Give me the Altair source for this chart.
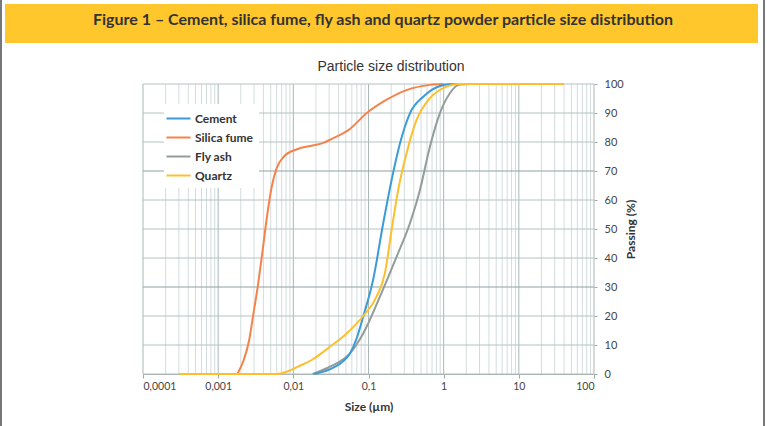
import altair as alt
import pandas as pd

# ---- data ----
series_names = ["Cement", "Silica fume", "Fly ash", "Quartz"]
series_colors = ["#3b9bd9", "#f5824b", "#929c99", "#fdbf2d"]

silica_x = [0.0018, 0.0022, 0.0026, 0.0029, 0.0034, 0.0039, 0.0045, 0.0052, 0.006, 0.0075,
            0.0112, 0.018, 0.025, 0.032, 0.0566, 0.094, 0.172, 0.321, 0.656, 1.0]
silica_y = [0, 5, 12, 19.7, 31, 42.5, 55, 65, 71, 75, 77.5, 78.8, 79.7, 81, 84.5, 89.9, 94.5,
            97.9, 99.7, 100]

cement_x = [0.019, 0.03, 0.045, 0.0566, 0.07, 0.085, 0.115, 0.157, 0.203, 0.262, 0.356, 0.535,
            0.89, 1.3, 2.0]
cement_y = [0, 1.5, 4.2, 7.1, 12.5, 19.8, 32.4, 52, 66.9, 79.5, 89.9, 95.6, 99.3, 100, 100]

flyash_x = [0.018, 0.0307, 0.0566, 0.085, 0.142, 0.236, 0.356, 0.483, 0.656, 0.89, 1.21, 1.57,
            2.2, 5.0]
flyash_y = [0, 2.5, 7.1, 14, 26.7, 40.4, 52, 63.4, 78.4, 89.9, 96.8, 99.7, 100, 100]

quartz_x = [0.0003, 0.006, 0.008, 0.0112, 0.018, 0.0307, 0.0512, 0.085, 0.128, 0.165, 0.203,
            0.248, 0.321, 0.436, 0.656, 1.09, 1.5, 40]
quartz_y = [0, 0, 0.7, 2.4, 5, 9.4, 14, 20, 26.7, 34.7, 49.7, 63.4, 76.1, 87.6, 95.1, 99.1, 100,
            100]

x_ticks = [0.0001, 0.001, 0.01, 0.1, 1, 10, 100]
y_ticks = [0, 10, 20, 30, 40, 50, 60, 70, 80, 90, 100]
minor_x = [k * d for d in [0.0001, 0.001, 0.01, 0.1, 1, 10] for k in range(2, 10)]
strong_y = [30, 70]

banner_text = "Figure 1 – Cement, silica fume, fly ash and quartz powder particle size distribution"
chart_title = "Particle size distribution"

# ---- build tables ----
rows = []
for name, xs, ys in [("Silica fume", silica_x, silica_y), ("Fly ash", flyash_x, flyash_y),
                     ("Cement", cement_x, cement_y), ("Quartz", quartz_x, quartz_y)]:
    for i, (a, b) in enumerate(zip(xs, ys)):
        rows.append({"series": name, "size": a, "passing": b, "i": i})
df = pd.DataFrame(rows)

W, H = 451, 290
xscale = alt.Scale(type="log", domain=[0.0001, 100])
yscale = alt.Scale(domain=[0, 100])

x_axis = alt.Axis(
    values=x_ticks, format="~g", labelExpr="replace(datum.label, '.', ',')",
    grid=False, domain=True, domainColor="#a0a8a8", ticks=True, tickSize=4,
    tickColor="#a0a8a8", labelFont="Lato", labelFontSize=10.5, labelColor="#444444",
    labelPadding=3, title="Size (µm)", titleFont="Lato", titleFontSize=12,
    titleFontWeight="bold", titleColor="#333333", titlePadding=10)
y_axis = alt.Axis(
    orient="right", values=y_ticks, grid=False, domain=False, ticks=True,
    tickSize=3, tickColor="#a0a8a8", labelFont="Lato", labelFontSize=11,
    labelColor="#444444", labelPadding=7, title="Passing (%)",
    titleAngle=270, titleFont="Lato", titleFontSize=12, titleFontWeight="bold",
    titleColor="#333333", titlePadding=14)

one = pd.DataFrame({"a": [0]})

minor_grid = alt.Chart(pd.DataFrame({"size": minor_x})).mark_rule(
    color="#d3dcdc", strokeWidth=1).encode(x=alt.X("size:Q", scale=xscale, axis=x_axis))
major_grid = alt.Chart(pd.DataFrame({"size": x_ticks})).mark_rule(
    color="#a9b7b7", strokeWidth=1).encode(x=alt.X("size:Q", scale=xscale, axis=x_axis))
hgrid = alt.Chart(pd.DataFrame({"passing": y_ticks})).mark_rule(strokeWidth=1).encode(
    y=alt.Y("passing:Q", scale=yscale, axis=y_axis),
    color=alt.condition(alt.FieldOneOfPredicate(field="passing", oneOf=strong_y),
                        alt.value("#8fa1a1"), alt.value("#b5c2c2")))

color_enc = alt.Color(
    "series:N",
    scale=alt.Scale(domain=series_names, range=series_colors),
    legend=alt.Legend(
        title=None, orient="none", legendX=21, legendY=20,
        symbolType="M-1.6,0H1.6", symbolSize=225, symbolStrokeWidth=2,
        labelOffset=8, rowPadding=4, padding=6, fillColor="white",
        labelFont="Lato", labelFontSize=12, labelFontWeight="bold", labelColor="#333333"))

lines = []
for name in ["Silica fume", "Fly ash", "Cement", "Quartz"]:
    lines.append(
        alt.Chart(df).transform_filter(alt.datum.series == name).mark_line(
            strokeWidth=2, interpolate="monotone").encode(
            x=alt.X("size:Q", scale=xscale, axis=x_axis),
            y=alt.Y("passing:Q", scale=yscale, axis=y_axis),
            color=color_enc,
            order="i:Q"))

banner = alt.Chart(one).mark_rect(color="#ffc72c").encode(
    x=alt.value(-138), x2=alt.value(615), y=alt.value(-80), y2=alt.value(-41))
banner_txt = alt.Chart(one).mark_text(
    text=banner_text, font="Lato", fontSize=16, fontWeight="bold", color="#333333",
    align="center", baseline="middle").encode(x=alt.value(240), y=alt.value(-64))
title_txt = alt.Chart(one).mark_text(
    text=chart_title, font="Liberation Sans", fontSize=14, color="#333333",
    align="center", baseline="middle").encode(x=alt.value(248), y=alt.value(-17))
border_l = alt.Chart(one).mark_rule(color="#777777", strokeWidth=2).encode(
    x=alt.value(-142), y=alt.value(-84), y2=alt.value(342))
border_r = alt.Chart(one).mark_rule(color="#777777", strokeWidth=2).encode(
    x=alt.value(621), y=alt.value(-84), y2=alt.value(342))

chart = alt.layer(
    minor_grid, major_grid, hgrid, *lines, banner, banner_txt, title_txt, border_l, border_r
).properties(
    width=W, height=H,
    autosize=alt.AutoSizeParams(type="none"),
    padding={"left": 143, "top": 84, "right": 173, "bottom": 52},
    background="white",
).configure_view(stroke=None)

chart.save("out.html", embed_options={"renderer": "svg", "actions": False})
